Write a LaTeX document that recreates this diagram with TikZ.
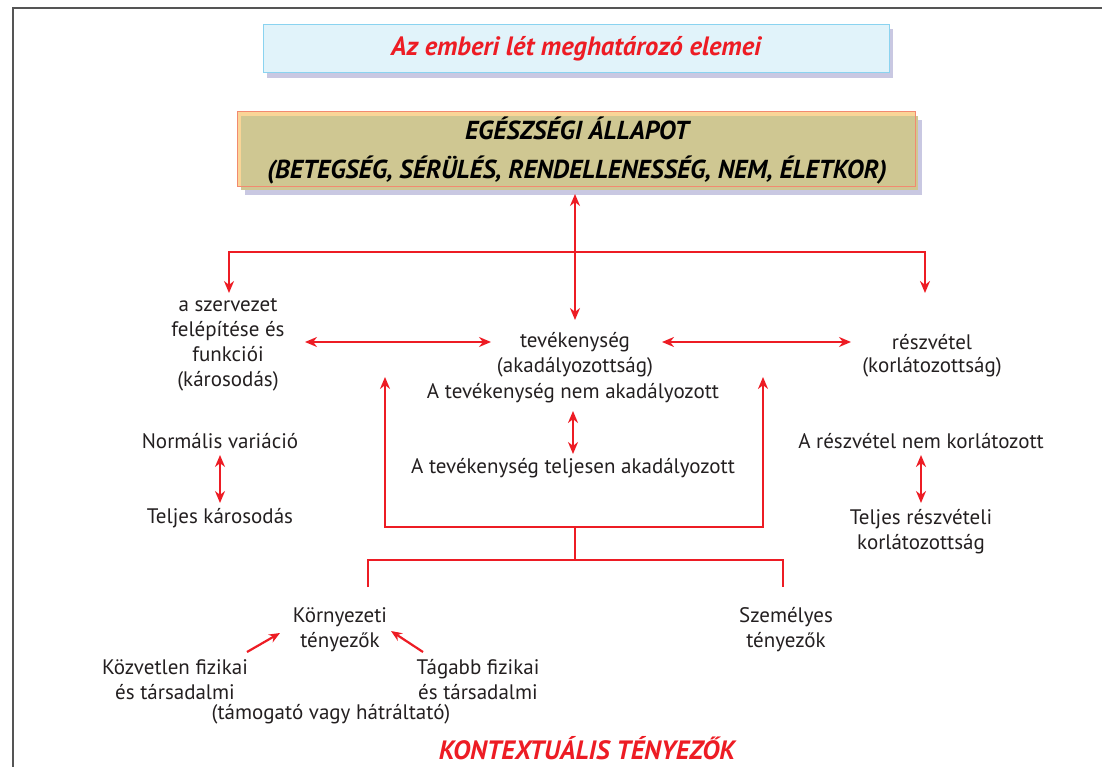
\documentclass[tikz,border=0pt]{standalone}
\usepackage{fontspec}
\setmainfont{PT Sans}
\usetikzlibrary{arrows.meta,calc}
\definecolor{txt}{HTML}{231F20}
\definecolor{rd}{HTML}{ED1C24}
\definecolor{tbfill}{HTML}{E1F3FA}
\definecolor{tbdraw}{HTML}{8AD3F0}
\definecolor{shad}{HTML}{C9C8E2}
\definecolor{olive}{HTML}{CFC792}
\definecolor{lorange}{HTML}{FAD597}
\definecolor{salmon}{HTML}{F28A70}
\definecolor{frm}{HTML}{555555}
\tikzset{
  tip/.tip={Stealth[length=12pt,width=10pt]},
  smalltip/.tip={Stealth[length=11pt,width=9pt]},
  ln/.style={draw=rd, line width=2.4pt},
  arr/.style={ln, -tip},
  dbl/.style={ln, tip-tip},
  sarr/.style={ln, line width=2.2pt, -smalltip},
  lbl/.style={text=txt, font=\fontsize{21}{25}\selectfont, align=center, inner sep=0pt},
  redtitle/.style={text=rd, font=\fontsize{26.5}{30}\selectfont\bfseries\itshape, inner sep=0pt},
  hlth/.style={text=black, font=\fontsize{26}{39}\selectfont\bfseries\itshape, align=center, inner sep=0pt},
}
\begin{document}
\begin{tikzpicture}[x=1pt,y=-1pt]
\useasboundingbox (0,0) rectangle (1102,767);
% frame
\draw[frm, line width=1.5pt] (1102,8) -- (13,8) -- (13,767);

% title box
\fill[shad] (267,29) rectangle (893,78);
\filldraw[fill=tbfill, draw=tbdraw, line width=1pt] (263,25) rectangle (889,73);
\node[redtitle] (title) at (576,49) {Az emberi lét meghatározó elemei};

% health box
\fill[shad] (245,120) rectangle (922,195);
\filldraw[fill=lorange, draw=salmon, line width=1pt] (237,112) rectangle (915,187);
\fill[olive] (241,116) rectangle (918,190);
\draw[salmon, line width=1pt] (237,112) rectangle (915,187);
\node[hlth] (health) at (577,150.5) {EGÉSZSÉGI ÁLLAPOT\\(BETEGSÉG, SÉRÜLÉS, RENDELLENESSÉG, NEM, ÉLETKOR)};

% text nodes
\node[lbl] (org) at (228,344.5) {a szervezet\\felépítése és\\funkciói\\(károsodás)};
\node[lbl] (act) at (575,342) {tevékenység};
\node[lbl] (actb) at (575,367) {(akadályozottság)};
\node[lbl] (actc) at (573,393) {A tevékenység nem akadályozott};
\node[lbl] (part) at (932,342) {részvétel};
\node[lbl] (partb) at (932,367) {(korlátozottság)};
\node[lbl] (norm) at (220,441) {Normális variáció};
\node[lbl] (teljk) at (220,518) {Teljes károsodás};
\node[lbl] (actd) at (573,468) {A tevékenység teljesen akadályozott};
\node[lbl] (partc) at (921,441) {A részvétel nem korlátozott};
\node[lbl] (partd) at (921,531.5) {Teljes részvételi\\korlátozottság};
\node[lbl] (env) at (340,629.5) {Környezeti\\tényezők};
\node[lbl] (pers) at (786,629.5) {Személyes\\tényezők};
\node[lbl] (near) at (175,679.5) {Közvetlen fizikai\\és társadalmi};
\node[lbl] (wide) at (478,679.5) {Tágabb fizikai\\és társadalmi};
\node[lbl] (supp) at (331,714) {(támogató vagy hátráltató)};
\node[redtitle] (ctx) at (587,748) {KONTEXTUÁLIS TÉNYEZŐK};

% coordinates
\coordinate (hs) at (575,194);
\coordinate (at) at (575,320);
\coordinate (lt) at (229,293);
\coordinate (lj) at (229,252);
\coordinate (rj) at (925,252);
\coordinate (rt) at (925,293);
\coordinate (oa) at (305,342);
\coordinate (ob) at (491,342);
\coordinate (pa) at (662,342);
\coordinate (pb) at (851,342);
\coordinate (ul) at (385,377);
\coordinate (bl) at (385,527);
\coordinate (br) at (763,527);
\coordinate (ur) at (763,377);
\coordinate (bm) at (575,527);
\coordinate (bj) at (575,560);
\coordinate (el) at (368,587);
\coordinate (jl) at (368,560);
\coordinate (jr) at (783,560);
\coordinate (pr) at (783,587);
\coordinate (na) at (247,652);
\coordinate (nb) at (280,633);
\coordinate (wa) at (423,652);
\coordinate (wb) at (391,631);
\coordinate (n1) at (220,455);
\coordinate (n2) at (220,503);
\coordinate (c1) at (573,411);
\coordinate (c2) at (573,454);
\coordinate (p1) at (921,455);
\coordinate (p2) at (921,503);

% connectors
\draw[dbl] (hs) -- (at);
\draw[dbl] (lt) -- (lj) -- (rj) -- (rt);
\draw[dbl] (oa) -- (ob);
\draw[dbl] (pa) -- (pb);
\draw[dbl] (n1) -- (n2);
\draw[dbl] (c1) -- (c2);
\draw[dbl] (p1) -- (p2);
\draw[dbl] (ul) -- (bl) -- (br) -- (ur);
\draw[ln] (bm) -- (bj);
\draw[ln] (el) -- (jl) -- (jr) -- (pr);
\draw[sarr] (na) -- (nb);
\draw[sarr] (wa) -- (wb);
\end{tikzpicture}
\end{document}
